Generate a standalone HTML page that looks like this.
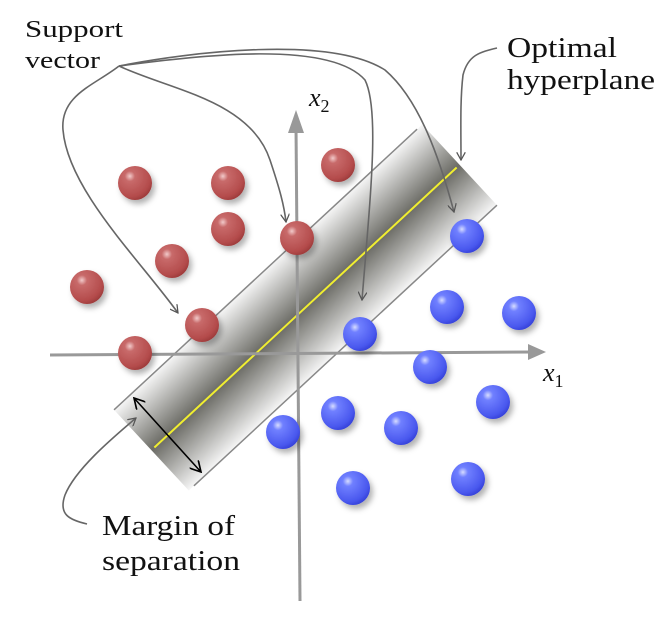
<!DOCTYPE html>
<html><head><meta charset="utf-8"><style>
html,body{margin:0;padding:0;background:#fff;width:670px;height:624px;overflow:hidden}
svg{display:block}
text{font-family:"Liberation Serif",serif;fill:#111}
</style></head><body>
<svg id="chart" width="670" height="624" viewBox="0 0 670 624">
<defs>
<linearGradient id="bandGrad" x1="0" y1="0" x2="0" y2="1">
<stop offset="0" stop-color="#f6f6f6"/><stop offset="0.5" stop-color="#6c6c66"/><stop offset="1" stop-color="#f6f6f6"/>
</linearGradient>
<radialGradient id="redG" cx="0.35" cy="0.3" r="0.75">
<stop offset="0" stop-color="#f2caca"/><stop offset="0.2" stop-color="#c86a6a"/><stop offset="0.8" stop-color="#b44c4c"/><stop offset="1" stop-color="#9c3a3a"/>
</radialGradient>
<radialGradient id="blueG" cx="0.35" cy="0.3" r="0.75">
<stop offset="0" stop-color="#d6dcff"/><stop offset="0.2" stop-color="#7080ff"/><stop offset="0.8" stop-color="#4a58ee"/><stop offset="1" stop-color="#3440d8"/>
</radialGradient>
<filter id="shadow" x="-50%" y="-50%" width="200%" height="200%">
<feDropShadow dx="3" dy="4" stdDeviation="3" flood-color="#000" flood-opacity="0.3"/>
</filter>
<marker id="arr" viewBox="0 0 10 10" refX="9" refY="5" markerWidth="9" markerHeight="9" orient="auto-start-reverse" markerUnits="userSpaceOnUse">
<path d="M0,0 L9,5 L0,10" fill="none" stroke="#555" stroke-width="1.4"/></marker>
<marker id="arrB" viewBox="0 0 10 10" refX="9" refY="5" markerWidth="12" markerHeight="12" orient="auto-start-reverse" markerUnits="userSpaceOnUse">
<path d="M0,0 L9,5 L0,10" fill="none" stroke="#000" stroke-width="1.4"/></marker>
</defs>

<g id="band" transform="translate(305.5,307.5) rotate(-42.8)">
<rect x="-210" y="-55" width="420" height="110" fill="url(#bandGrad)"/>
<line x1="-210" y1="-55" x2="203" y2="-55" stroke="#888" stroke-width="1.5"/>
<line x1="-203" y1="55" x2="210" y2="55" stroke="#888" stroke-width="1.5"/>
<line x1="-206" y1="0" x2="206" y2="0" stroke="#f0ee30" stroke-width="2"/>
</g>

<g>
<line x1="50" y1="355" x2="532" y2="352" stroke="#999" stroke-width="3"/>
<polygon points="546,352 528,344 528,360" fill="#999"/>
<line x1="300" y1="601" x2="296" y2="126" stroke="#999" stroke-width="3"/>
<polygon points="296,110 288,133 304,133" fill="#999"/>
<text x="543" y="381" font-size="26" font-style="italic">x<tspan font-size="18" font-style="normal" dy="6">1</tspan></text>
<text x="309" y="106" font-size="26" font-style="italic">x<tspan font-size="18" font-style="normal" dy="6">2</tspan></text>
</g>

<g id="points"></g>

<g fill="none" stroke="#666" stroke-width="1.6">
<path d="M119,66 C170,90 250,100 270,160 C280,190 284,205 286,222" marker-end="url(#arr)"/>
<path d="M119,66 C200,55 330,40 365,80 C380,110 370,200 362,300" marker-end="url(#arr)"/>
<path d="M119,66 C190,52 330,35 385,70 C420,100 440,160 454,212" marker-end="url(#arr)"/>
<path d="M119,66 C95,85 60,95 63,130 C68,190 140,260 178,313" marker-end="url(#arr)"/>
<path d="M497,48 C480,52 468,55 463,75 C460,100 461,130 461,160" marker-end="url(#arr)"/>
<path d="M87,524 C70,520 58,515 65,495 C75,470 110,440 136,418" marker-end="url(#arr)"/>
<line x1="134" y1="398" x2="201" y2="472" stroke="#000" stroke-width="1.6" marker-start="url(#arrB)" marker-end="url(#arrB)"/>
</g>

<text x="25" y="37" font-size="24" textLength="98" lengthAdjust="spacingAndGlyphs">Support</text>
<text x="25" y="68" font-size="24" textLength="75" lengthAdjust="spacingAndGlyphs">vector</text>
<text x="507" y="57" font-size="29" textLength="110" lengthAdjust="spacingAndGlyphs">Optimal</text>
<text x="507" y="89" font-size="29" textLength="148" lengthAdjust="spacingAndGlyphs">hyperplane</text>
<text x="102" y="535" font-size="29" textLength="133" lengthAdjust="spacingAndGlyphs">Margin of</text>
<text x="102" y="570" font-size="29" textLength="138" lengthAdjust="spacingAndGlyphs">separation</text>
</svg>
<script>
const redX = [-3.26,-1.4,0.8,-1.4,-2.52,-4.22,-0.02,-1.92,-3.26];
const redY = [3.42,3.42,3.78,2.5,1.86,1.34,2.32,0.58,0.02];
const blueX = [3.38,2.98,4.42,1.24,2.64,3.9,0.8,-0.3,2.06,1.1,3.4];
const blueY = [2.36,0.94,0.82,0.4,-0.26,-0.96,-1.18,-1.56,-1.48,-2.68,-2.5];
const ox = 298, oy = 354, unit = 50;
function sx(v){return ox + v*unit;}
function sy(v){return oy - v*unit;}
const NS = "http://www.w3.org/2000/svg";
const g = document.getElementById("points");
function draw(xs, ys, fill, cls){
  for(let i=0;i<xs.length;i++){
    const c = document.createElementNS(NS,"circle");
    c.setAttribute("cx", sx(xs[i]));
    c.setAttribute("cy", sy(ys[i]));
    c.setAttribute("r", 17);
    c.setAttribute("fill", fill);
    c.setAttribute("filter","url(#shadow)");
    
    
    g.appendChild(c);
  }
}
draw(redX, redY, "url(#redG)", "red-point");
draw(blueX, blueY, "url(#blueG)", "blue-point");
</script>
</body></html>
